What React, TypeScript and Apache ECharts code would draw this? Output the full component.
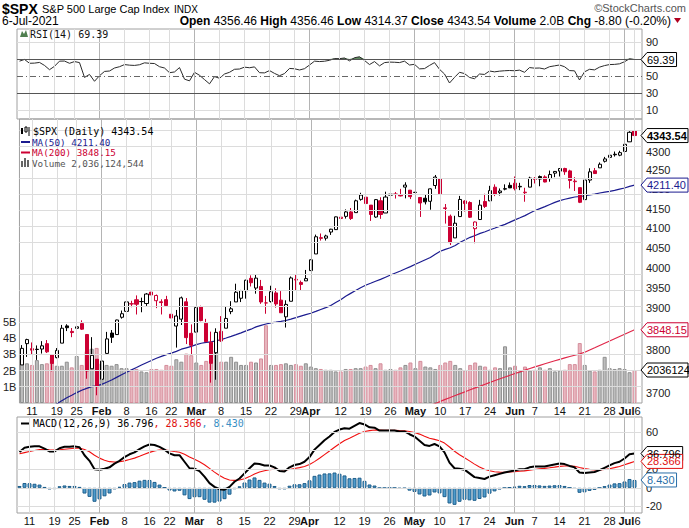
import React, { useEffect, useRef } from "react";
import * as echarts from "echarts";

// ---------- data ----------
const dates = [
  "01-07","01-08","01-11","01-12","01-13","01-14","01-15","01-19","01-20","01-21","01-22","01-25","01-26","01-27","01-28","01-29",
  "02-01","02-02","02-03","02-04","02-05","02-08","02-09","02-10","02-11","02-12","02-16","02-17","02-18","02-19","02-22","02-23","02-24","02-25","02-26",
  "03-01","03-02","03-03","03-04","03-05","03-08","03-09","03-10","03-11","03-12","03-15","03-16","03-17","03-18","03-19","03-22","03-23","03-24","03-25","03-26","03-29","03-30","03-31",
  "04-01","04-05","04-06","04-07","04-08","04-09","04-12","04-13","04-14","04-15","04-16","04-19","04-20","04-21","04-22","04-23","04-26","04-27","04-28","04-29","04-30",
  "05-03","05-04","05-05","05-06","05-07","05-10","05-11","05-12","05-13","05-14","05-17","05-18","05-19","05-20","05-21","05-24","05-25","05-26","05-27","05-28",
  "06-01","06-02","06-03","06-04","06-07","06-08","06-09","06-10","06-11","06-14","06-15","06-16","06-17","06-18","06-21","06-22","06-23","06-24","06-25","06-28","06-29","06-30",
  "07-01","07-02","07-06"
];

const opens = [3764.71,3815.05,3803.14,3801.62,3802.23,3814.98,3788.73,3781.88,3816.22,3857.46,3844.24,3851.68,3862.96,3836.83,3755.75,3778.05,
  3731.17,3791.84,3840.27,3836.66,3878.30,3892.59,3910.49,3920.78,3916.40,3911.65,3939.61,3918.50,3915.86,3921.16,3885.55,3857.07,3873.71,3915.80,3839.66,
  3842.51,3903.64,3863.99,3818.53,3793.58,3844.39,3851.93,3891.99,3915.54,3924.52,3942.96,3973.59,3949.57,3953.50,3913.14,3916.48,3937.60,3919.93,3879.34,3917.12,3969.31,3963.34,3967.25,
  3992.78,4034.44,4075.57,4074.29,4089.95,4096.11,4124.71,4130.10,4141.58,4139.76,4174.14,4179.80,4159.18,4128.42,4170.46,4138.78,4185.03,4188.25,4185.14,4206.14,4198.10,
  4191.98,4179.04,4177.06,4169.14,4210.34,4228.29,4150.34,4130.55,4074.99,4129.58,4169.92,4165.94,4098.45,4121.97,4168.61,4170.16,4205.94,4191.59,4201.94,4210.77,
  4216.52,4206.82,4191.43,4206.05,4229.34,4233.81,4232.99,4228.56,4242.90,4248.31,4255.28,4248.87,4220.37,4204.78,4173.40,4224.61,4249.27,4256.97,4274.45,4284.90,4293.21,4290.65,
  4300.73,4326.60,4356.46];
const highs = [3811.55,3826.69,3817.86,3810.78,3820.96,3823.60,3788.73,3804.53,3859.75,3861.45,3852.31,3859.23,3870.90,3836.83,3830.50,3778.05,
  3784.32,3843.09,3847.51,3872.42,3894.56,3915.77,3918.35,3931.50,3925.99,3937.23,3950.43,3933.61,3921.98,3930.41,3902.92,3895.98,3928.65,3925.02,3861.08,
  3914.50,3906.41,3874.47,3843.67,3851.69,3881.06,3903.76,3917.35,3960.27,3944.99,3970.08,3981.04,3983.87,3969.62,3930.12,3955.31,3949.13,3942.08,3919.54,3978.19,3981.83,3968.01,3994.41,
  4020.63,4083.42,4086.23,4083.13,4098.19,4129.48,4131.76,4148.00,4151.69,4173.49,4191.31,4180.81,4159.18,4175.02,4179.57,4194.17,4194.19,4193.35,4201.53,4218.78,4198.10,
  4209.39,4179.04,4187.72,4202.70,4238.04,4236.39,4162.04,4134.73,4131.58,4183.13,4171.92,4169.15,4116.93,4172.80,4188.72,4209.52,4213.42,4202.61,4213.38,4218.36,
  4234.12,4217.37,4204.39,4233.45,4232.34,4236.74,4237.09,4249.74,4248.38,4255.59,4257.16,4251.89,4232.29,4204.78,4226.24,4255.84,4256.60,4271.28,4286.12,4292.14,4300.52,4302.43,
  4320.66,4355.43,4356.46];
const lows = [3764.71,3783.60,3789.02,3776.51,3791.50,3792.86,3749.62,3780.37,3816.22,3845.05,3830.41,3797.16,3847.78,3732.48,3755.75,3694.12,
  3725.62,3791.84,3816.68,3836.66,3874.93,3892.59,3902.64,3884.94,3890.39,3905.78,3923.85,3900.43,3885.03,3903.07,3874.71,3805.59,3859.60,3814.04,3789.54,
  3842.51,3868.57,3818.86,3723.34,3730.19,3819.25,3851.93,3885.73,3915.54,3915.21,3923.54,3953.44,3935.74,3910.86,3886.75,3914.16,3901.57,3889.07,3853.50,3917.12,3943.25,3944.35,3966.98,
  3992.78,4034.44,4068.14,4068.31,4082.54,4095.51,4114.82,4124.43,4120.87,4139.76,4170.75,4150.47,4118.38,4126.35,4123.69,4138.78,4182.36,4176.22,4181.78,4176.81,4174.85,
  4188.03,4128.59,4160.94,4147.33,4201.64,4188.13,4111.53,4056.88,4074.99,4129.58,4142.69,4125.99,4061.41,4121.97,4151.72,4170.16,4182.52,4184.11,4197.78,4203.57,
  4197.59,4198.27,4167.93,4206.05,4215.66,4208.41,4218.74,4220.34,4232.25,4234.07,4238.35,4202.45,4196.05,4164.40,4173.40,4217.27,4241.43,4256.97,4271.16,4274.67,4287.04,4287.96,
  4300.73,4326.60,4314.37];
const closes = [3803.79,3824.68,3799.61,3801.19,3809.84,3795.54,3768.25,3798.91,3851.85,3853.07,3841.47,3855.36,3849.62,3750.77,3787.38,3714.24,
  3773.86,3826.31,3830.17,3871.74,3886.83,3915.59,3911.23,3909.88,3916.38,3934.83,3932.59,3931.33,3913.97,3906.71,3876.50,3881.37,3925.43,3829.34,3811.15,
  3901.82,3870.29,3819.72,3768.47,3841.94,3821.35,3875.44,3898.81,3939.34,3943.34,3968.94,3962.71,3974.12,3915.46,3913.10,3940.59,3910.52,3889.14,3909.52,3974.54,3971.09,3958.55,3972.89,
  4019.87,4077.91,4073.94,4079.95,4097.17,4128.80,4127.99,4141.59,4124.66,4170.42,4185.47,4163.26,4134.94,4173.42,4134.98,4180.17,4187.62,4186.72,4183.18,4211.47,4181.17,
  4192.66,4164.66,4167.59,4201.62,4232.60,4188.43,4152.10,4063.04,4112.50,4173.85,4163.29,4127.83,4115.68,4159.12,4155.86,4197.05,4188.13,4195.99,4200.88,4204.11,
  4202.04,4208.12,4192.85,4229.89,4226.52,4227.26,4219.55,4239.18,4247.44,4255.15,4246.59,4223.70,4221.86,4166.45,4224.79,4246.44,4241.84,4266.49,4280.70,4290.61,4291.80,4297.50,
  4319.94,4352.34,4343.54];

// volume in billions
const volumes = [2.65,2.45,2.35,2.65,2.4,2.45,2.85,2.3,2.3,2.55, 2.2,2.9,2.35,3.2,3.35,3.4,2.45,2.35,2.3,2.4,
  2.15,2.15,2.05,2.1,1.95,1.9,2.1,2.1,2.05,2.35, 2.3,2.7,2.55,3.05,2.95,2.5,2.35,2.6,3.25,3.15,
  2.55,2.55,2.85,2.55,2.35,2.35,2.55,2.5,2.75,4.8, 2.35,2.35,2.4,2.45,2.35,2.4,2.3,2.45,2.25,2.15,
  2.1,2.05,2.05,1.95,1.95,2.1,2.1,2.15,2.15,2.25, 2.35,2.15,2.45,2.05,2.1,2.05,2.2,2.35,2.5,2.15,
  2.6,2.25,2.2,2.1,2.35,2.5,2.6,2.35,2.15,2.0, 2.35,2.5,2.3,2.25,2.05,2.2,2.15,3.5,2.2,2.3,
  1.95,2.25,2.0,2.05,2.2,2.05,2.15,1.95,2.0,2.05, 2.4,2.4,3.7,2.35,2.0,1.95,2.05,2.85,2.15,2.1,
  2.15,2.1,1.9,2.036];

const ma50 = [3609.95,3618.63,3629.21,3639.03,3649.83,3659.53,3667.52,3674.63,3681.45,3688.33,
  3694.15,3700.34,3705.88,3710.16,3714.20,3715.95,3719.24,3724.41,3729.37,3735.66,
  3741.84,3747.44,3753.08,3758.51,3764.40,3769.85,3775.12,3780.42,3784.71,3789.01,
  3792.49,3796.66,3801.81,3805.12,3808.40,3812.54,3815.92,3817.87,3819.05,3821.99,
  3824.67,3828.38,3832.29,3836.37,3840.70,3845.44,3849.57,3855.04,3858.81,3862.11,
  3864.85,3866.57,3868.36,3870.52,3873.82,3877.33,3881.13,3884.61,3887.97,3892.47,
  3897.12,3901.61,3906.56,3914.12,3920.94,3929.48,3936.50,3943.38,3950.49,3956.32,
  3961.28,3966.44,3970.91,3976.32,3981.74,3986.78,3991.79,3997.40,4002.74,4008.46,
  4014.22,4019.95,4025.47,4033.54,4041.08,4046.09,4049.94,4055.80,4063.90,4070.33,
  4076.46,4081.27,4086.47,4090.80,4095.88,4100.26,4104.93,4109.46,4115.24,4121.02,
  4126.37,4132.01,4138.83,4145.17,4150.22,4155.19,4160.81,4166.30,4171.00,4174.38,
  4177.37,4180.21,4181.60,4183.52,4185.89,4187.89,4190.73,4192.93,4195.04,4197.61,
  4200.86,4203.79,4208.13,4211.40];

const ma200Start = 80;
const ma200 = [3661.0,3665.8,3670.6,3675.3,3680.0,3684.6,3689.0,3693.5,3698.0,3702.4,
  3706.8,3711.1,3715.4,3719.7,3724.0,3728.2,3732.4,3736.5,3740.6,3744.6,
  3748.6,3752.5,3756.3,3760.1,3763.8,3767.4,3771.0,3774.5,3777.9,3781.2,
  3784.5,3787.6,3790.6,3794.5,3799.9,3805.2,3810.6,3816.0,3821.3,3826.7,
  3832.1,3837.4,3842.8,3848.15];

const rsi = [67.5,69.5,65,65.2,66,62.5,57.5,61.5,67.5,67.6, 65,67,65.8,48.5,52,44,50.5,55.5,56,59.5,
  61,63.5,62.8,62.5,63.3,65.5,65,64.7,61,59.5, 54,54.9,60,46.5,44.5,54.5,51,46,41,49.5,
  47.5,52.5,54.5,58,58.3,60.5,59.8,60.8,54,53.8, 56.5,53.2,50.5,53,59,58.6,57.2,58.7,63,67.5,
  67,67.4,68.5,70.5,70.4,71.2,67.8,71.5,72.6,68.3, 63.5,67,62,65.8,66.4,66.2,65.8,67.5,63,63.8,
  58.5,58.8,62.5,65.8,58,52.5,42,48.5,54.5,53, 48.5,47,52.5,52,56,55,55.8,56.3,56.6,56.3,
  57,54.5,60,59.3,59.5,58.3,61,62,63,61, 56.5,56.2,45.5,55,58,57.3,60.5,62.3,63.5,63.7,
  64.4,66.8,70.3,69.39];

const macd = [38.5,43,44,44.5,44.5,42,39,39,42.5,44, 44,44.5,43.5,35,29,20,19.5,20.5,22,26,
  29,33,36,38,41.5,44.5,46.5,46,44,41, 37,35,35,28,21,20.5,18,12,5,1,
  -1.5,-2,1,6.5,10,15.5,21,26,25.5,24, 24,22,18,17.5,22,24.5,25.5,28,33,41,
  46,51,55,60,62.5,64,63.5,66.5,69.5,68, 65,64.5,61.5,61.5,61.5,61.5,60.5,60.5,57.5,55,
  50.5,46,45,47,44.5,38,27,21,20.5,19.5, 15.5,11.5,10.5,9.5,12,13.5,15,16.5,17.5,18.5,
  20,20,22,22.8,23,23,24,25,26,25.5, 23.5,22,16.5,15.8,16.5,17,19,21.5,24,26.5,
  28,31.5,36,36.796];
const signal = [36.5,37.8,39.04,40.13,41.0,41.2,40.76,40.41,40.83,41.46, 41.97,42.48,42.68,41.14,38.71,34.97,31.88,29.6,28.08,27.66,
  27.93,28.94,30.35,31.88,33.8,35.94,38.05,39.64,40.51,40.61, 39.89,38.91,38.13,36.1,33.08,30.56,28.05,24.84,20.87,16.9,
  13.22,10.18,8.34,7.97,8.38,9.8,12.04,14.83,16.96,18.37, 19.5,20.0,19.6,19.18,19.74,20.69,21.65,22.92,24.94,28.15,
  31.72,35.58,39.46,43.57,47.36,50.69,53.25,55.9,58.62,60.5, 61.4,62.02,61.92,61.84,61.77,61.72,61.48,61.28,60.52,59.42,
  57.64,55.31,53.25,52.0,50.5,48.0,43.8,39.24,35.49,32.29, 28.93,25.44,22.45,19.86,18.29,17.33,16.86,16.79,16.93,17.24,
  17.79,18.23,18.98,19.74,20.39,20.91,21.53,22.22,22.98,23.48, 23.48,23.18,21.84,20.63,19.8,19.24,19.19,19.65,20.52,21.72,
  22.98,24.68,26.5,28.366];
const hist = [2.0,5.2,4.96,4.37,3.5,0.8,-1.76,-1.41,1.67,2.54, 2.03,2.02,0.82,-6.14,-9.71,-14.97,-12.38,-9.1,-6.08,-1.66,
  1.07,4.06,5.65,6.12,7.7,8.56,8.45,6.36,3.49,0.39, -2.89,-3.91,-3.13,-8.1,-12.08,-10.06,-10.05,-12.84,-15.87,-15.9,
  -14.72,-12.18,-7.34,-1.47,1.62,5.7,8.96,11.17,8.54,5.63, 4.5,2.0,-1.6,-1.68,2.26,3.81,3.85,5.08,8.06,12.85,
  14.28,15.42,15.54,16.43,15.14,13.31,10.25,10.6,10.88,7.5, 3.6,2.48,-0.42,-0.34,-0.27,-0.22,-0.98,-0.78,-3.02,-4.42,
  -7.14,-9.31,-8.25,-5.0,-6.0,-10.0,-16.8,-18.24,-14.99,-12.79, -13.43,-13.94,-11.95,-10.36,-6.29,-3.83,-1.86,-0.29,0.57,1.26,
  2.21,1.77,3.02,3.06,2.61,2.09,2.47,2.78,3.02,2.02, 0.02,-1.18,-5.34,-4.83,-3.3,-2.24,-0.19,1.85,3.48,4.78,
  5.02,6.82,9.5,8.43];

// week / month grid lines (trading-day index) and the x tick labels
const gridIdx = [2,7,11,16,21,26,30,35,40,45,50,55,58,64,69,74,79,84,89,94,99,103,108,113,118,121,123];
const monthIdx = [16,35,58,79,99,121];
const xLabelIdx = [2,7,11,16,21,26,30,35,40,45,50,55,58,64,69,74,79,84,89,94,99,103,108,113,118,122];
const xLabelText = ["11","19","25","Feb","8","16","22","Mar","8","15","22","29","Apr","12","19","26","May","10","17","24","Jun","7","14","21","28","Jul|6"];
const priceTicks = [3700,3750,3800,3850,3900,3950,4000,4050,4100,4150,4200,4250,4300];
const priceGrid = [3700,3750,3800,3850,3900,3950,4000,4050,4100,4150,4200,4250,4300,4350];
const rsiTicks = [10,30,50,90];
const macdTicks = [-20,0,20,40,60];
const volTicks = [1,2,3,4,5];

// ---------- styling ----------
const FONT = "'Liberation Sans', Arial, sans-serif";
const MONO = "'DejaVu Sans Mono', monospace";
const RED = "#cc0033";
const NAVY = "#1b1b8f";
const BLUE_T = "#2a6fa8";
const GRID_L = "#dcdcdc";
const GRID_M = "#b4b4b4";

const cats = [...dates, ""];
const labelAt: Record<number, string> = {};
xLabelIdx.forEach((k, j) => { labelAt[k] = xLabelText[j]; });

const L = { left: 17, width: 625 };
const G_RSI = { ...L, top: 29, height: 90 };
const G_MAIN = { ...L, top: 119, height: 284 };
const G_MACD = { ...L, top: 417, height: 96 };
const lnMin = Math.log(3676.4);
const lnMax = Math.log(4388.6);

function vLines() {
  return gridIdx.map((k) => ({
    xAxis: dates[k],
    lineStyle: { color: monthIdx.includes(k) ? GRID_M : GRID_L, width: 1, type: "solid" },
  }));
}
function holder(xi: number, yi: number, hLines: any[]) {
  return {
    type: "line", xAxisIndex: xi, yAxisIndex: yi, data: cats.map(() => null), z: 1, silent: true,
    markLine: {
      silent: true, symbol: ["none", "none"], label: { show: false }, animation: false,
      emphasis: { disabled: true },
      data: [...vLines(), ...hLines],
    },
  };
}

const fmtLabel = (t: string) => {
  if (t.includes("|")) {
    const [m, d] = t.split("|");
    return `{m|${m}}{d|${d}}`;
  }
  return /[A-Za-z]/.test(t) ? `{m|${t}}` : `{d|${t}}`;
};
const xLabel = {
  show: true,
  hideOverlap: false,
  interval: (i: number) => labelAt[i] !== undefined,
  formatter: (_v: string, i: number) => fmtLabel(labelAt[i] ?? ""),
  margin: 2,
  rich: {
    m: { fontWeight: "bold", fontSize: 11, fontFamily: FONT, color: "#111" },
    d: { fontSize: 11, fontFamily: FONT, color: "#111" },
  },
};
const baseX = (gi: number, showLabels: boolean) => ({
  type: "category", gridIndex: gi, data: cats, boundaryGap: true,
  axisLine: { show: false }, axisTick: { show: false }, splitLine: { show: false },
  axisLabel: showLabels ? xLabel : { show: false },
});
const rightLabel = (custom: number[], fmt?: (v: number) => string) => ({
  show: true, customValues: custom, margin: 4, fontSize: 11, fontFamily: FONT, color: "#222",
  formatter: fmt,
});

const candleData = closes.map((c, i) => {
  const o = opens[i];
  const col = i > 0 && c < closes[i - 1] ? RED : "#000";
  const hollow = c >= o;
  const fill = hollow ? "#fff" : col;
  return {
    value: [Math.log(o), Math.log(c), Math.log(lows[i]), Math.log(highs[i])],
    itemStyle: { color: fill, color0: fill, borderColor: col, borderColor0: col, borderWidth: 1 },
  };
});
const volData = volumes.map((v, i) => {
  const down = i > 0 && closes[i] < closes[i - 1];
  return {
    value: v,
    itemStyle: down
      ? { color: "rgba(214,120,136,0.55)", borderColor: "#d48d9b", borderWidth: 1 }
      : { color: "rgba(135,135,135,0.55)", borderColor: "#8f8f8f", borderWidth: 1 },
  };
});

const option: any = {
  animation: false,
  backgroundColor: "#fff",
  grid: [G_RSI, G_MAIN, G_MACD].map((g) => ({ ...g, show: true, borderColor: "#a0a0a0", borderWidth: 1, backgroundColor: "transparent" })),
  xAxis: [baseX(0, false), baseX(1, true), baseX(2, true)],
  yAxis: [
    { type: "value", gridIndex: 0, position: "right", min: 0, max: 105, axisLine: { show: false }, axisTick: { show: false }, splitLine: { show: false },
      axisLabel: rightLabel(rsiTicks) },
    { type: "value", gridIndex: 1, position: "right", min: lnMin, max: lnMax, axisLine: { show: false }, axisTick: { show: false }, splitLine: { show: false },
      axisLabel: rightLabel(priceTicks.map((p) => Math.log(p)), (v: number) => String(Math.round(Math.exp(v)))) },
    { type: "value", gridIndex: 1, position: "left", min: 0, max: 17.53, axisLine: { show: false }, axisTick: { show: false }, splitLine: { show: false },
      axisLabel: { show: true, customValues: volTicks, margin: 3, fontSize: 11, fontFamily: FONT, color: "#222", formatter: (v: number) => `${v}B` } },
    { type: "value", gridIndex: 2, position: "right", min: -27, max: 76, axisLine: { show: false }, axisTick: { show: false }, splitLine: { show: false },
      axisLabel: rightLabel(macdTicks) },
  ],
  series: [
    holder(0, 0, [
      { yAxis: 90, lineStyle: { color: GRID_L, width: 1, type: "solid" } },
      { yAxis: 10, lineStyle: { color: GRID_L, width: 1, type: "solid" } },
      { yAxis: 70, lineStyle: { color: "#555", width: 1, type: "solid" } },
      { yAxis: 30, lineStyle: { color: "#555", width: 1, type: "solid" } },
      { yAxis: 50, lineStyle: { color: "#666", width: 1, type: [6, 3, 1, 3] } },
    ]),
    { type: "line", xAxisIndex: 0, yAxisIndex: 0, data: rsi.map((v) => Math.max(v, 70)), symbol: "none", silent: true, z: 2,
      lineStyle: { width: 0 }, areaStyle: { origin: 70, color: "#5f8a5f", opacity: 1 } },
    { type: "line", xAxisIndex: 0, yAxisIndex: 0, data: rsi, symbol: "none", silent: true, z: 3,
      lineStyle: { color: "#2b2b2b", width: 1 } },

    holder(1, 1, priceGrid.map((p) => ({ yAxis: Math.log(p), lineStyle: { color: GRID_L, width: 1, type: "solid" } }))),
    { type: "bar", xAxisIndex: 1, yAxisIndex: 2, data: volData, barWidth: 4, silent: true, z: 2 },
    { type: "line", xAxisIndex: 1, yAxisIndex: 1, data: dates.map((_, i) => (i >= ma200Start ? Math.log(ma200[i - ma200Start]) : null)),
      symbol: "none", silent: true, z: 3, lineStyle: { color: "#e0284a", width: 1.2 } },
    { type: "line", xAxisIndex: 1, yAxisIndex: 1, data: ma50.map((v) => Math.log(v)), symbol: "none", silent: true, z: 3,
      lineStyle: { color: NAVY, width: 1.2 } },
    { type: "candlestick", xAxisIndex: 1, yAxisIndex: 1, data: candleData, barWidth: 3.6, silent: true, z: 4 },

    holder(2, 3, macdTicks.map((v) => ({ yAxis: v, lineStyle: { color: GRID_L, width: 1, type: "solid" } }))),
    { type: "bar", xAxisIndex: 2, yAxisIndex: 3, data: hist, barWidth: 4, silent: true, z: 2,
      itemStyle: { color: "#4f9ccc", borderColor: "#1f5f8c", borderWidth: 1 } },
    { type: "line", xAxisIndex: 2, yAxisIndex: 3, data: signal, symbol: "none", silent: true, z: 3,
      lineStyle: { color: "#f01010", width: 1.1 } },
    { type: "line", xAxisIndex: 2, yAxisIndex: 3, data: macd, symbol: "none", silent: true, z: 4,
      lineStyle: { color: "#000", width: 2 } },
  ],
};

function txt(x: number, y: number, text: string, font: string, fill: string, align = "left", extra: any = {}) {
  return { type: "text", x, y, silent: true, z: 50, style: { text, font, fill, align, verticalAlign: "middle", ...extra } };
}
function textW(s: string) {
  let w = 0;
  for (const ch of s) w += ch === "." ? 3.06 : 6.12;
  return w;
}
function tag(y: number, text: string, color: string, bold = false) {
  const xe = Math.min(688, 648 + textW(text) + 1);
  return {
    type: "group", z: 60, silent: true,
    children: [
      { type: "polygon", z: 60, shape: { points: [[641, y], [647, y - 7], [xe, y - 7], [xe, y + 7], [647, y + 7]] },
        style: { fill: "#fff", stroke: color, lineWidth: 1 } },
      { type: "text", z: 61, x: 647, y, style: { text, fill: color, font: `${bold ? "bold " : ""}11px ${FONT}`, verticalAlign: "middle", align: "left" } },
    ],
  };
}

export default function App() {
  const ref = useRef<HTMLDivElement>(null);
  useEffect(() => {
    if (!ref.current) return;
    const chart = echarts.init(ref.current, null, { renderer: "svg" });
    chart.setOption(option);

    const py = (ai: number, v: number) => chart.convertToPixel({ yAxisIndex: ai } as any, v) as unknown as number;
    const n = closes.length - 1;
    const lastClose = closes[n];
    const lastMa50 = ma50[ma50.length - 1];
    const lastMa200 = ma200[ma200.length - 1];
    const lastVol = volumes[n];
    const lastRsi = rsi[n];

    const graphics: any[] = [
      // title rows
      txt(2, 9, "$SPX", `bold 14px ${FONT}`, "#000"),
      txt(42, 9, "S&P 500 Large Cap Index", `11px ${FONT}`, "#000"),
      txt(174, 9, "INDX", `10px ${FONT}`, "#000"),
      txt(686, 8, "©StockCharts.com", `11px ${FONT}`, "#555", "right"),
      txt(2, 21, "6-Jul-2021", `12px ${FONT}`, "#000"),
      txt(671, 21, "{b|Open} 4356.46 {b|High} 4356.46 {b|Low} 4314.37 {b|Close} 4343.54 {b|Volume} 2.0B {b|Chg} -8.80 (-0.20%)",
        `12px ${FONT}`, "#000", "right", { rich: { b: { font: `bold 12px ${FONT}`, fill: "#000" } } }),
      { type: "polygon", silent: true, z: 50, shape: { points: [[674, 18], [681, 18], [677.5, 23]] }, style: { fill: "#b00020" } },

      // RSI legend
      { type: "polygon", silent: true, z: 50, shape: { points: [[20, 37], [22, 31], [24, 34], [26, 30], [28, 37]] }, style: { fill: "#4f7f4f" } },
      txt(30, 34, `RSI(14) ${lastRsi.toFixed(2)}`, `10px ${MONO}`, "#111"),

      // main legend
      { type: "rect", silent: true, z: 50, shape: { x: 21, y: 128, width: 2, height: 6 }, style: { fill: "#000" } },
      { type: "rect", silent: true, z: 50, shape: { x: 25, y: 127, width: 2, height: 5 }, style: { fill: "#fff", stroke: "#000", lineWidth: 1 } },
      { type: "line", silent: true, z: 50, shape: { x1: 29, y1: 127, x2: 29, y2: 136 }, style: { stroke: "#000", lineWidth: 1 } },
      txt(33, 131.5, `$SPX (Daily) ${lastClose.toFixed(2)}`, `10px ${MONO}`, "#000"),
      { type: "rect", silent: true, z: 50, shape: { x: 21, y: 141, width: 9, height: 2 }, style: { fill: NAVY } },
      txt(32, 142, `MA(50) ${lastMa50.toFixed(2)}`, `9.3px ${MONO}`, NAVY),
      { type: "rect", silent: true, z: 50, shape: { x: 21, y: 151.5, width: 9, height: 2 }, style: { fill: RED } },
      txt(32, 152.5, `MA(200) ${lastMa200.toFixed(2)}`, `9.3px ${MONO}`, RED),
      { type: "rect", silent: true, z: 50, shape: { x: 21, y: 161, width: 2, height: 6 }, style: { fill: "#666" } },
      { type: "rect", silent: true, z: 50, shape: { x: 24, y: 158, width: 2, height: 9 }, style: { fill: "#666" } },
      { type: "rect", silent: true, z: 50, shape: { x: 27, y: 160, width: 2, height: 7 }, style: { fill: "#666" } },
      txt(32, 163, "Volume 2,036,124,544", `9.3px ${MONO}`, "#555"),

      // MACD legend
      { type: "rect", silent: true, z: 50, shape: { x: 21, y: 422.5, width: 8, height: 2 }, style: { fill: "#000" } },
      txt(33, 423.5, `{k|MACD(12,26,9) ${macd[n].toFixed(3)}}{r|, ${signal[n].toFixed(3)}}{b|, ${hist[n].toFixed(3)}}`, `10px ${MONO}`, "#000", "left",
        { rich: { k: { fill: "#000", font: `10px ${MONO}` }, r: { fill: "#e01010", font: `10px ${MONO}` }, b: { fill: "#3a8fc4", font: `10px ${MONO}` } } }),

      // value tags
      tag(py(1, Math.log(lastClose)), lastClose.toFixed(2), "#000", true),
      tag(py(1, Math.log(lastMa50)), lastMa50.toFixed(2), NAVY),
      tag(py(1, Math.log(lastMa200)), lastMa200.toFixed(2), RED),
      tag(py(2, lastVol), "2036124", "#000"),
      tag(py(0, lastRsi), lastRsi.toFixed(2), "#000"),
      tag(py(3, macd[n]), macd[n].toFixed(3), "#000"),
      tag(py(3, signal[n]), signal[n].toFixed(3), "#e01010"),
      tag(py(3, hist[n]), hist[n].toFixed(3), BLUE_T),
    ];
    chart.setOption({ graphic: graphics });
    return () => chart.dispose();
  }, []);
  return <div ref={ref} style={{ position: "absolute", left: 0, top: 0, width: 689, height: 528 }} />;
}
